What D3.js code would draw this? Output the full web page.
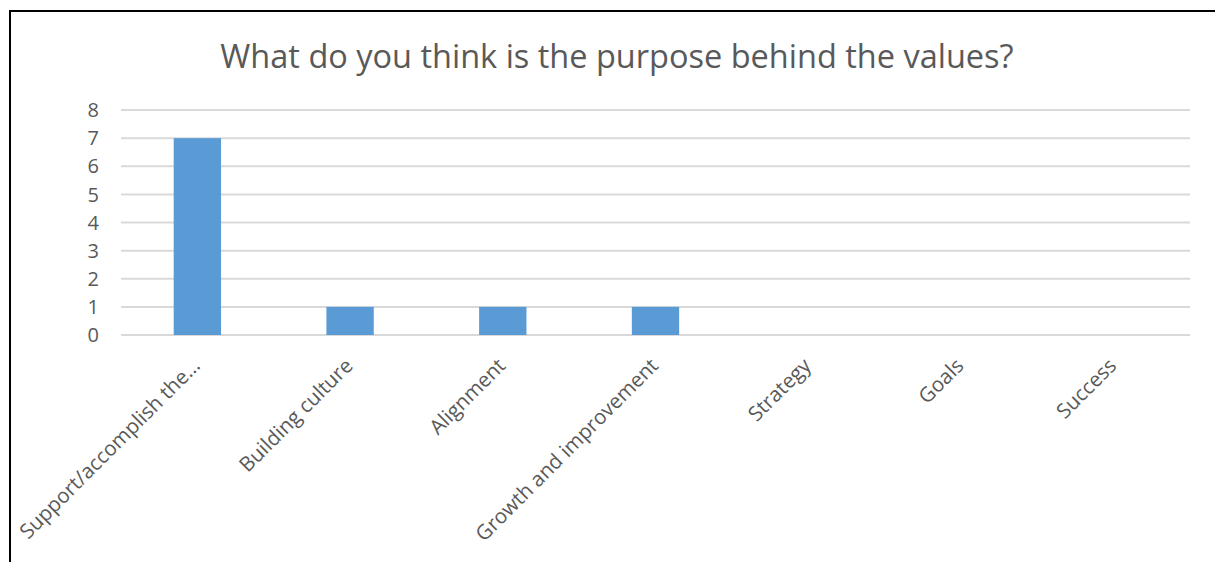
<!DOCTYPE html>
<html>
<head>
<meta charset="utf-8">
<script src="https://cdn.jsdelivr.net/npm/d3@7"></script>
<style>
  body { margin: 0; background: #fff; }
  svg { display: block; }
  text { font-family: "Open Sans", "Noto Sans", sans-serif; fill: #595959; }
</style>
</head>
<body>
<div id="chart"></div>
<script>
// survey answers, one count per category
var categories = ["Support/accomplish the\u2026", "Building culture", "Alignment",
  "Growth and improvement", "Strategy", "Goals", "Success"];
var counts = [7, 1, 1, 1, 0, 0, 0];
var yTicks = [0, 1, 2, 3, 4, 5, 6, 7, 8];
var title = "What do you think is the purpose behind the values?";

var width = 1215, height = 562;
var margin = { top: 110, right: 25, bottom: 227, left: 121 };

var svg = d3.select("#chart").append("svg")
    .attr("width", width)
    .attr("height", height);

// frame around the chart area
svg.append("path")
    .attr("d", "M10," + height + "V11H" + width)
    .attr("fill", "none")
    .attr("stroke", "#000")
    .attr("stroke-width", 2);

svg.append("text")
    .attr("x", 617)
    .attr("y", 68)
    .attr("text-anchor", "middle")
    .style("font-size", "32.5px")
    .text(title);

var x = d3.scaleBand()
    .domain(categories)
    .range([margin.left, width - margin.right])
    .paddingInner(0.69)
    .paddingOuter(0.345);

var band = d3.scaleBand()
    .domain(categories)
    .range([margin.left, width - margin.right]);

var y = d3.scaleLinear()
    .domain([0, 8])
    .range([height - margin.bottom, margin.top]);

// gridlines
svg.append("g")
    .selectAll("line")
    .data(yTicks)
    .enter().append("line")
    .attr("x1", margin.left)
    .attr("x2", width - margin.right)
    .attr("y1", function(d) { return y(d); })
    .attr("y2", function(d) { return y(d); })
    .attr("stroke", "#d9d9d9")
    .attr("stroke-width", 2);

svg.append("g")
    .selectAll("text")
    .data(yTicks)
    .enter().append("text")
    .attr("x", 99)
    .attr("y", function(d) { return y(d); })
    .attr("dy", "0.36em")
    .attr("text-anchor", "end")
    .style("font-size", "20px")
    .text(function(d) { return d; });

// bars
svg.append("g")
    .selectAll("rect")
    .data(counts)
    .enter().append("rect")
    .attr("x", function(d, i) { return x(categories[i]); })
    .attr("width", x.bandwidth())
    .attr("y", function(d) { return y(d); })
    .attr("height", function(d) { return y(0) - y(d); })
    .attr("fill", "#5b9bd5");

// rotated category labels
svg.append("g")
    .selectAll("text")
    .data(categories)
    .enter().append("text")
    .attr("text-anchor", "end")
    .style("font-size", "20.5px")
    .attr("transform", function(d) {
      var cx = band(d) + band.bandwidth() / 2 + 4;
      return "translate(" + cx + "," + (y(0) + 32) + ") rotate(-45)";
    })
    .text(function(d) { return d; });
</script>
</body>
</html>
